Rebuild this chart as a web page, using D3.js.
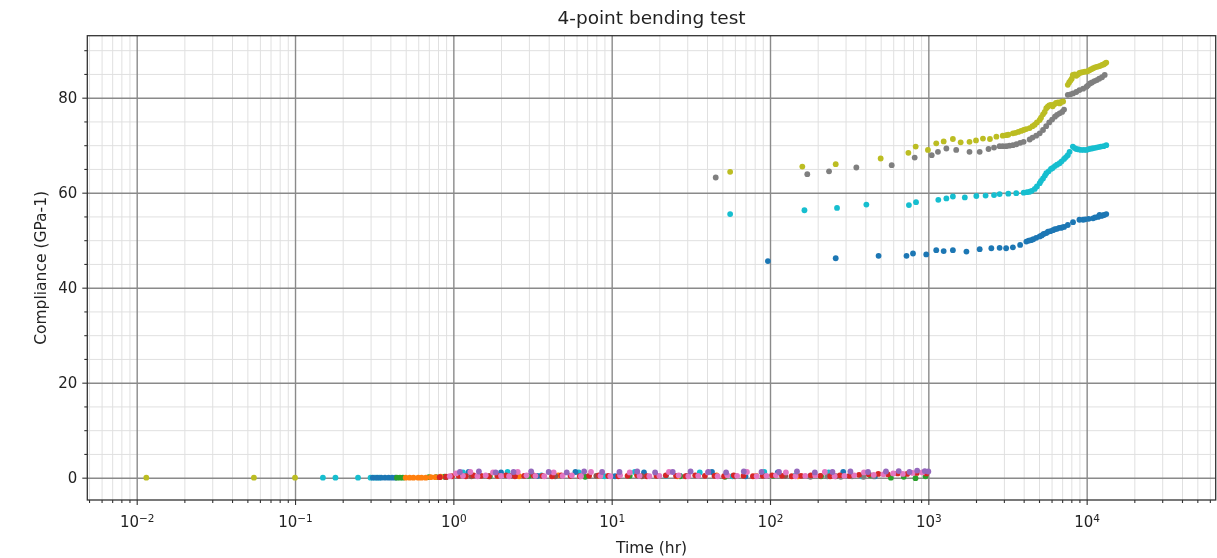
<!DOCTYPE html>
<html><head><meta charset="utf-8">
<script src="https://cdn.jsdelivr.net/npm/d3@7"></script>
<style>body{margin:0;background:#fff} text{font-family:"DejaVu Sans",sans-serif;fill:#222}</style>
</head><body><svg id="c" width="1217" height="558"></svg>
<script>
// ---- tick labels / categories ----
const xMajorTicks = [0.01, 0.1, 1, 10, 100, 1000, 10000];
const xTickExponents = ["\u22122", "\u22121", "0", "1", "2", "3", "4"];
const yMajorTicks = [0, 20, 40, 60, 80];
const yMinorTicks = [5, 10, 15, 25, 30, 35, 45, 50, 55, 65, 70, 75, 85, 90];
const titleText = "4-point bending test";
const xLabelText = "Time (hr)";
const yLabelText = "Compliance (GPa-1)";

// ---- upper series: [time (hr), compliance] ----
const blueHigh = [[97,45.6],[260,46.2],[485,46.7],[728,46.7],[800,47.2],[970,47.0],[1122,47.9],[1250,47.7],[1429,47.9],[1740,47.6],[2110,48.1],[2500,48.3],[2820,48.4],[3100,48.3],[3420,48.5],[3800,49.0],[4160,49.7],[4300,49.9],[4450,50.0],[4600,50.2],[4800,50.5],[5050,50.8],[5200,51.0],[5350,51.3],[5560,51.5],[5700,51.8],[5900,51.9],[6120,52.1],[6300,52.3],[6500,52.4],[6700,52.6],[6920,52.6],[7000,52.7],[7200,52.8],[7600,53.2],[8200,53.8],[9000,54.3],[9500,54.3],[9800,54.4],[10300,54.5],[10970,54.6],[11300,54.8],[11800,54.9],[12060,55.3],[12300,55.1],[12600,55.2],[12900,55.3],[13300,55.5]];
const cyanHigh = [[56,55.5],[165,56.3],[265,56.8],[406,57.5],[754,57.4],[836,58.0],[1156,58.5],[1300,58.8],[1429,59.2],[1700,59.0],[2010,59.3],[2300,59.4],[2600,59.5],[2820,59.7],[3200,59.8],[3590,59.9],[4000,60.0],[4200,60.1],[4365,60.2],[4500,60.4],[4700,60.8],[4850,61.3],[5050,62.0],[5150,62.5],[5300,63.0],[5450,63.6],[5560,64.1],[5750,64.5],[5950,65.0],[6100,65.2],[6300,65.6],[6500,65.9],[6745,66.2],[6950,66.6],[7200,67.1],[7400,67.5],[7600,67.9],[7800,68.6],[8180,69.7],[8400,69.4],[8600,69.2],[8900,69.1],[9200,69.0],[9600,69.0],[9980,69.0],[10400,69.2],[10800,69.3],[11100,69.4],[11500,69.5],[11900,69.6],[12300,69.7],[12800,69.8],[13300,70.0]];
const grayHigh = [[45.4,63.2],[172,63.9],[236,64.5],[351,65.3],[587,65.8],[820,67.4],[1050,67.9],[1150,68.6],[1300,69.3],[1500,69.0],[1820,68.6],[2110,68.6],[2400,69.2],[2600,69.5],[2820,69.8],[2950,69.8],[3100,69.8],[3250,69.9],[3420,70.0],[3600,70.2],[3800,70.5],[4000,70.7],[4365,71.2],[4550,71.6],[4800,72.0],[5050,72.5],[5300,73.2],[5550,74.0],[5800,74.8],[6050,75.4],[6300,76.0],[6500,76.4],[6745,76.7],[7000,77.0],[7200,77.5],[7600,80.6],[7900,80.7],[8200,80.9],[8600,81.2],[9000,81.6],[9500,81.9],[9980,82.3],[10200,82.6],[10500,83.0],[10800,83.2],[11200,83.5],[11600,83.7],[12000,84.0],[12500,84.3],[13000,84.8]];
const oliveHigh = [[56,64.4],[160,65.5],[260,66.0],[500,67.2],[748,68.4],[832,69.7],[994,69.0],[1122,70.4],[1250,70.8],[1429,71.3],[1600,70.6],[1820,70.7],[2000,71.0],[2213,71.4],[2450,71.3],[2690,71.8],[2950,72.0],[3100,72.1],[3200,72.2],[3420,72.5],[3550,72.6],[3700,72.8],[3850,73.0],[4000,73.2],[4150,73.4],[4365,73.6],[4550,74.0],[4700,74.3],[4850,74.8],[5050,75.3],[5150,75.8],[5300,76.5],[5430,77.0],[5560,77.8],[5680,78.1],[5800,78.4],[5950,78.5],[6100,78.2],[6250,78.6],[6400,78.9],[6600,79.0],[6745,78.8],[6900,79.1],[7100,79.2],[7600,82.7],[7750,83.2],[7900,83.6],[8050,84.0],[8180,84.8],[8400,84.9],[8600,84.6],[8800,84.9],[9000,85.2],[9250,85.3],[9500,85.4],[9750,85.5],[10000,85.5],[10200,85.6],[10420,85.8],[10700,86.0],[11000,86.2],[11300,86.4],[11600,86.5],[11900,86.6],[12200,86.7],[12500,86.9],[12800,87.0],[13050,87.2],[13300,87.4]];

// ---- lower series (near zero) ----
const oliveLowTime = [0.0115, 0.055, 0.1];
const oliveLowComp = [0, 0, 0];
const cyanLowTime = [0.15, 0.18, 0.25, 0.3, 0.32, 0.34, 1.15, 2.2, 3.6, 6.2, 9.0, 14, 22, 36, 58, 92, 145, 235, 380];
const cyanLowComp = [0, 0, 0, 0, 0, 0, 1.1, 1.2, 0.5, 1.1, 0.3, 1.2, 0.4, 1.1, 0.3, 1.2, 0.5, 1.1, 0.3];
const blueLowTime = [0.31, 0.33, 0.35, 0.37, 0.39, 0.41, 0.43, 1.25, 2.0, 3.4, 5.9, 10.5, 16, 27, 43, 70, 112, 180, 290, 460];
const blueLowComp = [0, 0, 0, 0, 0, 0, 0, 1.2, 1.1, 0.4, 1.2, 0.3, 1.1, 0.4, 1.2, 0.3, 1.1, 0.4, 1.2, 0.3];
const greenLowTime = [0.44, 0.46, 0.48, 0.7, 0.78, 0.88, 1.7, 3.0, 6.8, 13, 27, 52, 105, 210, 430, 580, 700, 830, 960];
const greenLowComp = [0, 0, 0, 0.1, 0.1, 0.2, 0.3, 0.4, 0.2, 0.4, 0.3, 0.2, 0.4, 0.3, 0.5, 0.0, 0.2, -0.1, 0.3];
const orangeLowTime = [0.5, 0.53, 0.56, 0.6, 0.63, 0.67, 0.72, 0.77, 0.83, 1.1, 1.9, 2.6, 4.6, 8.2, 14.5, 26, 46, 82, 150];
const orangeLowComp = [0, 0, 0, 0, 0, 0, 0.1, 0.1, 0.2, 0.5, 0.4, 0.3, 0.5, 0.4, 0.6, 0.3, 0.5, 0.4, 0.3];
const brownLowTime = [0.9, 1.3, 2.3, 4.4, 8.0, 15.5, 30, 60, 125, 260];
const brownLowComp = [0.1, 0.3, 0.4, 0.3, 0.4, 0.3, 0.4, 0.3, 0.4, 0.3];
const grayLowTime = [180, 230, 280, 330, 390, 450];
const grayLowComp = [0.2, 0.3, 0.2, 0.3, 0.2, 0.3];
const redLowTime = [0.82, 0.9, 0.98, 1.08, 1.2, 1.34, 1.5, 1.68, 1.9, 2.15, 2.45, 2.8, 3.2, 3.65, 4.2, 4.8, 5.5, 6.3, 7.2, 8.3, 9.5, 11, 12.6, 14.5, 16.7, 19.2, 22, 25.5, 29.3, 33.7, 38.8, 44.6, 51.3, 59, 68, 78, 90, 103, 119, 137, 157, 181, 208, 240, 276, 317, 365, 420, 483, 555, 640, 735, 846, 973];
const redLowComp = [0.1, 0.2, 0.3, 0.4, 0.3, 0.5, 0.4, 0.3, 0.4, 0.5, 0.3, 0.4, 0.5, 0.4, 0.3, 0.5, 0.4, 0.3, 0.4, 0.5, 0.4, 0.3, 0.4, 0.5, 0.3, 0.4, 0.5, 0.4, 0.3, 0.5, 0.4, 0.4, 0.3, 0.5, 0.4, 0.3, 0.4, 0.5, 0.4, 0.3, 0.4, 0.5, 0.4, 0.3, 0.5, 0.4, 0.6, 0.7, 0.8, 0.7, 0.9, 0.8, 1.0, 0.9];
const pinkLowTime = [0.95, 1.04, 1.15, 1.28, 1.42, 1.6, 1.78, 2.0, 2.25, 2.55, 2.9, 3.3, 3.75, 4.3, 4.9, 5.6, 6.4, 7.4, 8.5, 9.8, 11.3, 13, 15, 17.3, 20, 23, 26.5, 30.5, 35.2, 40.5, 46.7, 53.8, 62, 71.5, 82.4, 95, 109, 126, 145, 167, 193, 222, 256, 295, 340, 392, 452, 520, 600, 690, 795, 916];
const pinkLowComp = [0.3, 0.9, 0.4, 1.2, 0.3, 0.5, 1.1, 0.4, 0.3, 1.2, 0.5, 0.4, 0.3, 1.1, 0.4, 0.5, 0.3, 1.2, 0.4, 0.3, 0.5, 1.1, 0.4, 0.3, 0.4, 1.2, 0.5, 0.3, 0.4, 1.1, 0.3, 0.5, 0.4, 1.2, 0.3, 0.4, 0.5, 1.1, 0.3, 0.4, 0.5, 1.2, 0.3, 0.4, 0.5, 1.1, 0.6, 0.7, 0.9, 0.8, 1.0, 1.1];
const purpleLowTime = [1.1, 1.45, 1.85, 2.4, 3.1, 4.0, 5.2, 6.7, 8.7, 11.2, 14.5, 18.8, 24.3, 31.5, 40.8, 52.8, 68.3, 88.4, 114, 148, 192, 248, 322, 416, 540, 650, 760, 850, 950, 1000];
const purpleLowComp = [1.2, 1.3, 1.1, 1.2, 1.3, 1.2, 1.1, 1.3, 1.2, 1.2, 1.3, 1.1, 1.2, 1.3, 1.2, 1.1, 1.3, 1.2, 1.2, 1.3, 1.1, 1.2, 1.3, 1.2, 1.3, 1.4, 1.2, 1.5, 1.4, 1.3];

const series = [
  {c: "#bcbd22", p: d3.zip(oliveLowTime, oliveLowComp)},
  {c: "#17becf", p: d3.zip(cyanLowTime, cyanLowComp)},
  {c: "#1f77b4", p: d3.zip(blueLowTime, blueLowComp)},
  {c: "#2ca02c", p: d3.zip(greenLowTime, greenLowComp)},
  {c: "#ff7f0e", p: d3.zip(orangeLowTime, orangeLowComp)},
  {c: "#8c564b", p: d3.zip(brownLowTime, brownLowComp)},
  {c: "#7f7f7f", p: d3.zip(grayLowTime, grayLowComp)},
  {c: "#d62728", p: d3.zip(redLowTime, redLowComp)},
  {c: "#e377c2", p: d3.zip(pinkLowTime, pinkLowComp)},
  {c: "#9467bd", p: d3.zip(purpleLowTime, purpleLowComp)},
  {c: "#1f77b4", p: blueHigh},
  {c: "#17becf", p: cyanHigh},
  {c: "#7f7f7f", p: grayHigh},
  {c: "#bcbd22", p: oliveHigh}
];

const m = {left: 87.3, right: 1215.7, top: 35.7, bottom: 500};
const x = d3.scaleLog().domain([Math.pow(10, -2.312), Math.pow(10, 4.815)]).range([m.left, m.right]);
const y = d3.scaleLinear().domain([-4.7, 93.05]).range([m.bottom, m.top]);
const xMinorTicks = x.ticks().filter(d => Math.abs(Math.log10(d) - Math.round(Math.log10(d))) > 1e-6);

const svgRoot = d3.select("#c");
svgRoot.append("defs").append("filter").attr("id", "soft")
  .attr("x", "-5%").attr("y", "-5%").attr("width", "110%").attr("height", "110%")
  .append("feGaussianBlur").attr("stdDeviation", 0.55);
const svg = svgRoot.append("g").attr("filter", "url(#soft)");
const pw = m.right - m.left, ph = m.bottom - m.top;

// minor grid
const gMinor = svg.append("g");
gMinor.append("g").attr("transform", `translate(0,${m.bottom})`)
  .call(d3.axisBottom(x).tickValues(xMinorTicks).tickSize(-ph).tickFormat(""))
  .call(g => g.select(".domain").remove())
  .call(g => g.selectAll("line").attr("stroke", "#e0e0e0").attr("stroke-width", 1));
gMinor.append("g").attr("transform", `translate(${m.left},0)`)
  .call(d3.axisLeft(y).tickValues(yMinorTicks).tickSize(-pw).tickFormat(""))
  .call(g => g.select(".domain").remove())
  .call(g => g.selectAll("line").attr("stroke", "#e0e0e0").attr("stroke-width", 1));
// major grid
const gMajor = svg.append("g");
gMajor.append("g").attr("transform", `translate(0,${m.bottom})`)
  .call(d3.axisBottom(x).tickValues(xMajorTicks).tickSize(-ph).tickFormat(""))
  .call(g => g.select(".domain").remove())
  .call(g => g.selectAll("line").attr("stroke", "#8a8a8a").attr("stroke-width", 1.4));
gMajor.append("g").attr("transform", `translate(${m.left},0)`)
  .call(d3.axisLeft(y).tickValues(yMajorTicks).tickSize(-pw).tickFormat(""))
  .call(g => g.select(".domain").remove())
  .call(g => g.selectAll("line").attr("stroke", "#8a8a8a").attr("stroke-width", 1.4));

// points
svgRoot.select("defs").append("clipPath").attr("id", "clp").append("rect")
  .attr("x", m.left).attr("y", m.top).attr("width", pw).attr("height", ph);
const gPts = svg.append("g").attr("clip-path", "url(#clp)");
series.forEach(s => {
  gPts.append("g").selectAll("circle").data(s.p).join("circle")
    .attr("cx", d => x(d[0])).attr("cy", d => y(d[1])).attr("r", 2.9)
    .attr("fill", s.c);
});

// axes ticks
const axStyle = g => {
  g.select(".domain").remove();
  g.selectAll("line").attr("stroke", "#333").attr("stroke-width", 1.1);
};
svg.append("g").attr("transform", `translate(${m.left},0)`)
  .call(d3.axisLeft(y).tickValues(yMinorTicks).tickSize(3).tickFormat("")).call(axStyle);
svg.append("g").attr("transform", `translate(${m.left},0)`)
  .call(d3.axisLeft(y).tickValues(yMajorTicks).tickSize(5).tickPadding(5))
  .call(axStyle)
  .call(g => g.selectAll("text").attr("font-size", "15px").style("fill", "#222").attr("font-family", "DejaVu Sans"));
svg.append("g").attr("transform", `translate(0,${m.bottom})`)
  .call(d3.axisBottom(x).tickValues(xMinorTicks).tickSize(3).tickFormat("")).call(axStyle);
const xAx = svg.append("g").attr("transform", `translate(0,${m.bottom})`)
  .call(d3.axisBottom(x).tickValues(xMajorTicks).tickSize(5).tickFormat(""))
  .call(axStyle);
xAx.selectAll(".tick").each(function(d, i) {
  const t = d3.select(this).append("text").attr("y", 27).attr("text-anchor", "middle")
    .attr("font-size", "15px").attr("font-family", "DejaVu Sans").style("fill", "#222");
  t.append("tspan").text("10");
  t.append("tspan").attr("dy", "-0.45em").attr("font-size", "10.5px").text(xTickExponents[i]);
});

// frame
svg.append("rect").attr("x", m.left).attr("y", m.top).attr("width", pw).attr("height", ph)
  .attr("fill", "none").attr("stroke", "#333").attr("stroke-width", 1.3);

// labels
svg.append("text").attr("x", (m.left + m.right) / 2).attr("y", 24).attr("text-anchor", "middle")
  .attr("font-size", "18.5px").text(titleText);
svg.append("text").attr("x", (m.left + m.right) / 2).attr("y", 553).attr("text-anchor", "middle")
  .attr("font-size", "15.5px").text(xLabelText);
svg.append("text").attr("transform", `translate(46,${(m.top + m.bottom) / 2}) rotate(-90)`)
  .attr("text-anchor", "middle").attr("font-size", "15.5px").text(yLabelText);
</script>
</body></html>
